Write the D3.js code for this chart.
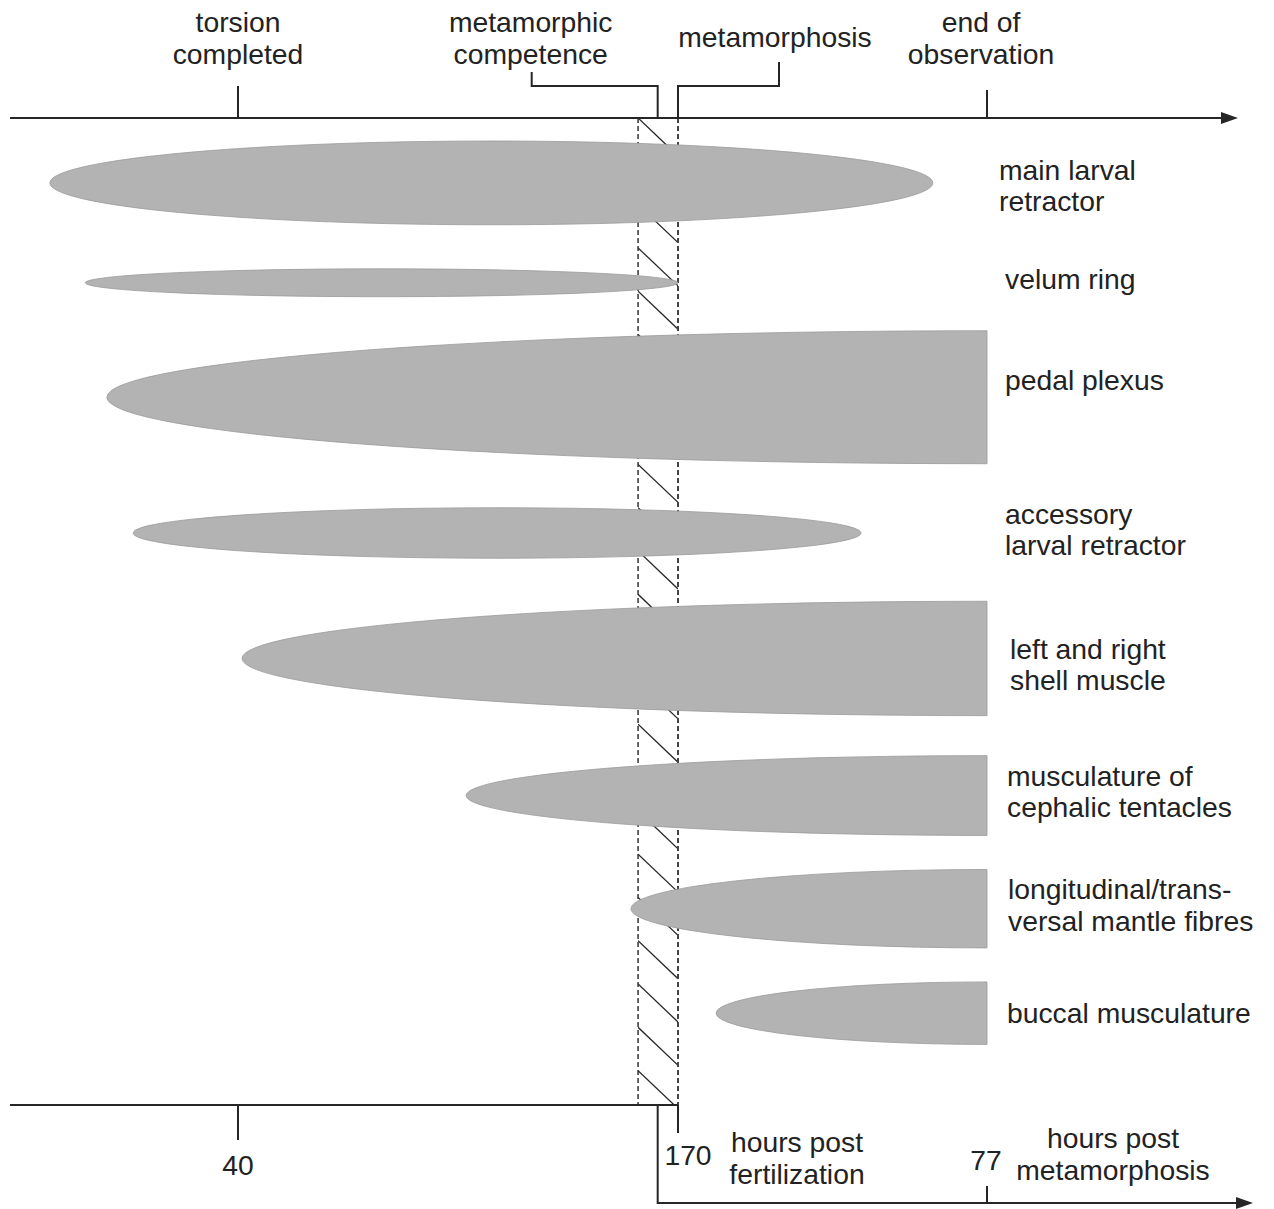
<!DOCTYPE html>
<html><head><meta charset="utf-8">
<script src="https://cdn.jsdelivr.net/npm/d3@7"></script>
<style>
body{margin:0;background:#fff}
text{font-family:"Liberation Sans",Arial,sans-serif;font-size:28.3px;fill:#222}
</style>
</head><body><svg id="c" width="1274" height="1209"></svg>
<script>
// ---------- data ----------
const structures = [["main larval","retractor"],["velum ring"],["pedal plexus"],["accessory","larval retractor"],["left and right","shell muscle"],["musculature of","cephalic tentacles"],["longitudinal/trans-","versal mantle fibres"],["buccal musculature"]];
// hours post fertilization (after metamorphosis = 170 + hours post metamorphosis)
const onsetHpf = [7.0, 13.2, 17.0, 21.6, 41.2, 107.4, 156.1, 179.5];
const endHpf   = [233.5, 170, 247, 215.6, 247, 247, 247, 247];
const relativeSize = [0.63, 0.21, 1.0, 0.38, 0.86, 0.60, 0.59, 0.47];
const eventLabels = [["torsion","completed"],["metamorphic","competence"],["metamorphosis"],["end of","observation"]];
const eventHpf = [40, 164, 170, 247];
const competenceWindow = [158.2, 170];
const hpfTicks = [40, 170];
const hpmTicks = [77];
const metamorphosisHpf = 170;
const observationEndHpf = 247;

// ---------- scales ----------
const svg = d3.select("#c");
const x = d3.scaleLinear().domain([0, 40, 170, 247]).range([10, 238, 678, 987]);
const xm = v => x(metamorphosisHpf + v);
const size = d3.scaleLinear().domain([0, 1]).range([0, 133]);
const ink = "#262626";

const axisY = 118, baseY = 1105;

// row layout (stacked, layout gaps between rows)
const top0 = 141, gaps = [44, 34, 44, 43, 40, 34, 34];
const labelDy = [3.5, -3, -16, -2.5, 7, -3, -2.5, 1];
const labelX = [999, 1005, 1005, 1005, 1010, 1007, 1008, 1007];
const centers = [];
{ let y = top0; relativeSize.forEach((s, i) => { const h = size(s); centers.push(y + h/2); y += h + (gaps[i] || 0); }); }

// ---------- competence band ----------
const bx0 = x(competenceWindow[0]), bx1 = x(competenceWindow[1]);
svg.append("clipPath").attr("id","band").append("rect")
  .attr("x", bx0).attr("y", axisY).attr("width", bx1 - bx0).attr("height", baseY - axisY);
const hatch = svg.append("g").attr("clip-path","url(#band)");
d3.range(axisY, baseY, 43.3).forEach(y0 => {
  hatch.append("line").attr("x1", bx0).attr("y1", y0).attr("x2", bx1).attr("y2", y0 + 38)
    .attr("stroke", ink).attr("stroke-width", 1.3);
});
[bx0, bx1].forEach((bx, i) => svg.append("line").attr("x1", bx).attr("x2", bx)
  .attr("y1", axisY).attr("y2", baseY).attr("stroke", i ? "#444" : ink)
  .attr("stroke-width", i ? 2 : 1.4).attr("stroke-dasharray", "5,3"));

// ---------- shapes ----------
const g = svg.append("g");
structures.forEach((s, i) => {
  const xs = x(onsetHpf[i]), xe = x(endHpf[i]);
  const cy = centers[i], ry = size(relativeSize[i]) / 2;
  if (endHpf[i] >= observationEndHpf) {
    const rx = xe - xs;
    g.append("path").attr("d", `M${xe},${cy-ry} A${rx},${ry} 0 0 0 ${xs},${cy} A${rx},${ry} 0 0 0 ${xe},${cy+ry} Z`)
      .attr("fill", "#b3b3b3").attr("stroke", "#9a9a9a").attr("stroke-width", 0.8);
  } else {
    g.append("ellipse").attr("cx", (xs+xe)/2).attr("cy", cy).attr("rx", (xe-xs)/2).attr("ry", ry)
      .attr("fill", "#b3b3b3").attr("stroke", "#9a9a9a").attr("stroke-width", 0.8);
  }
  const t = g.append("text");
  const n = s.length;
  s.forEach((line, j) => t.append("tspan").attr("x", labelX[i])
    .attr("y", cy + 9 + labelDy[i] + (j - (n-1)/2) * 31.5).text(line));
});

// ---------- top axis ----------
const line = (pts) => svg.append("path").attr("d", d3.line()(pts)).attr("fill","none")
  .attr("stroke", ink).attr("stroke-width", 2);
line([[10, axisY], [1224, axisY]]);
svg.append("path").attr("d", `M1221,${axisY-6}L1238,${axisY}L1221,${axisY+6}Z`).attr("fill", ink);

const ex = eventHpf.map(x);
line([[ex[0], 86], [ex[0], axisY]]);
// competence bracket
line([[ex[1]-126, 72], [ex[1]-126, 86], [ex[1], 86], [ex[1], axisY]]);
// metamorphosis bracket
line([[ex[2]+101, 62], [ex[2]+101, 86], [ex[2], 86], [ex[2], axisY]]);
line([[ex[3], 90], [ex[3], axisY]]);

const evX = [ex[0], ex[1]-127, ex[2]+97, ex[3]-6];
eventLabels.forEach((ls, i) => {
  const t = svg.append("text").attr("text-anchor","middle");
  ls.forEach((l, j) => t.append("tspan").attr("x", evX[i])
    .attr("y", ls.length === 1 ? 47 : 32 + j*32).text(l));
});

// ---------- bottom axes ----------
line([[10, baseY], [x(metamorphosisHpf), baseY]]);
line([[x(hpfTicks[0]), baseY], [x(hpfTicks[0]), 1140]]);
svg.append("text").attr("text-anchor","middle").attr("x", x(hpfTicks[0])).attr("y", 1175).text(hpfTicks[0]);
line([[x(hpfTicks[1]), baseY], [x(hpfTicks[1]), 1133]]);
svg.append("text").attr("text-anchor","middle").attr("x", x(hpfTicks[1]) + 10).attr("y", 1165).text(hpfTicks[1]);
{
  const t = svg.append("text").attr("text-anchor","middle");
  t.append("tspan").attr("x", 797).attr("y", 1152).text("hours post");
  t.append("tspan").attr("x", 797).attr("y", 1184).text("fertilization");
}
const lx = x(eventHpf[1]), ly = 1203;
line([[lx, baseY], [lx, ly], [1238, ly]]);
svg.append("path").attr("d", `M1236,${ly-6}L1253,${ly}L1236,${ly+6}Z`).attr("fill", ink);
hpmTicks.forEach(v => {
  line([[xm(v), 1186], [xm(v), ly]]);
  svg.append("text").attr("text-anchor","middle").attr("x", xm(v) - 1).attr("y", 1170).text(v);
});
{
  const t = svg.append("text").attr("text-anchor","middle");
  t.append("tspan").attr("x", 1113).attr("y", 1148).text("hours post");
  t.append("tspan").attr("x", 1113).attr("y", 1180).text("metamorphosis");
}
</script></body></html>
